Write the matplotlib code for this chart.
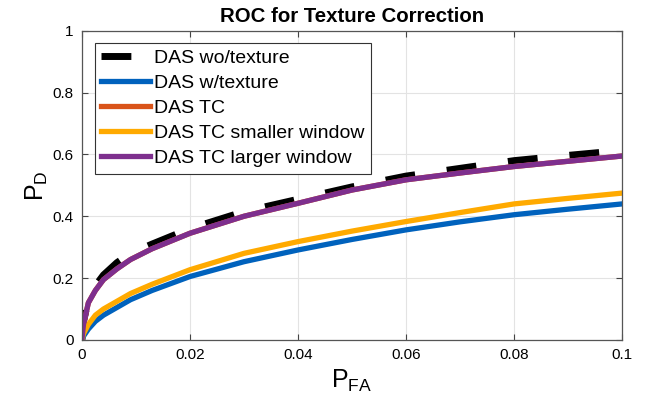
import matplotlib
matplotlib.use('Agg')
import matplotlib.pyplot as plt
from matplotlib.ticker import FuncFormatter

plt.rcParams['font.family'] = ['Liberation Sans', 'DejaVu Sans']
plt.rcParams['mathtext.default'] = 'regular'

# false alarm rate grid shared by all ROC curves
pfa = [0, 0.0003, 0.0012, 0.0025, 0.004, 0.0065, 0.009, 0.013, 0.02,
       0.03, 0.04, 0.05, 0.06, 0.07, 0.08, 0.09, 0.1]

pd_wo_texture = [0, 0.06, 0.13, 0.175, 0.21, 0.25, 0.28, 0.31, 0.36,
                 0.415, 0.455, 0.495, 0.53, 0.555, 0.58, 0.597, 0.613]
pd_w_texture = [0, 0.012, 0.035, 0.06, 0.08, 0.105, 0.13, 0.16, 0.205,
                0.253, 0.291, 0.325, 0.356, 0.382, 0.405, 0.423, 0.44]
pd_tc = [0, 0.05, 0.12, 0.16, 0.195, 0.23, 0.26, 0.295, 0.345,
         0.40, 0.442, 0.485, 0.518, 0.54, 0.561, 0.578, 0.595]
pd_tc_small = [0, 0.02, 0.05, 0.08, 0.10, 0.125, 0.15, 0.18, 0.227,
               0.28, 0.318, 0.352, 0.383, 0.412, 0.44, 0.458, 0.475]
pd_tc_large = [0, 0.05, 0.12, 0.16, 0.195, 0.23, 0.26, 0.295, 0.345,
               0.40, 0.442, 0.485, 0.518, 0.54, 0.561, 0.578, 0.595]

fig = plt.figure(figsize=(6.55, 4.11), dpi=100)
ax = fig.add_axes([0.125, 0.173, 0.825, 0.752])

ax.plot(pfa, pd_wo_texture, color='k', lw=5, ls=(0, (4.3, 4.6)), label='DAS wo/texture')
ax.plot(pfa, pd_w_texture, color='#0062BD', lw=3.8, label='DAS w/texture')
ax.plot(pfa, pd_tc, color='#D95319', lw=3.8, label='DAS TC')
ax.plot(pfa, pd_tc_small, color='#FFAA00', lw=3.8, label='DAS TC smaller window')
ax.plot(pfa, pd_tc_large, color='#7E2F8E', lw=3.8, label='DAS TC larger window')

ax.set_xlim(0, 0.1)
ax.set_ylim(0, 1)
ax.set_xticks([0, 0.02, 0.04, 0.06, 0.08, 0.1])
ax.set_yticks([0, 0.2, 0.4, 0.6, 0.8, 1])
ax.xaxis.set_major_formatter(FuncFormatter(lambda v, p: '%g' % round(v, 4)))
ax.yaxis.set_major_formatter(FuncFormatter(lambda v, p: '%g' % round(v, 4)))
ax.tick_params(direction='in', top=True, right=True, labelsize=11,
               color='#444444', length=4, pad=6)
ax.grid(True, color='#e3e3e3', lw=0.8)
ax.set_axisbelow(True)
for s in ax.spines.values():
    s.set_color('#555555')
    s.set_linewidth(0.9)

ax.set_xlabel('$P_{FA}$', fontsize=18, labelpad=4)
ax.set_ylabel('$P_{D}$', fontsize=18, labelpad=2)
ax.set_title('ROC for Texture Correction', fontsize=14.7, fontweight='bold', pad=6)

leg = ax.legend(loc='upper left', fontsize=14, handlelength=2.5,
                handletextpad=0.2, labelspacing=0.38, borderpad=0.33,
                borderaxespad=0, fancybox=False, framealpha=1, edgecolor='#333333',
                bbox_to_anchor=(0.024, 0.96))
leg.get_frame().set_linewidth(0.8)

fig.savefig('out.png', dpi=100)
